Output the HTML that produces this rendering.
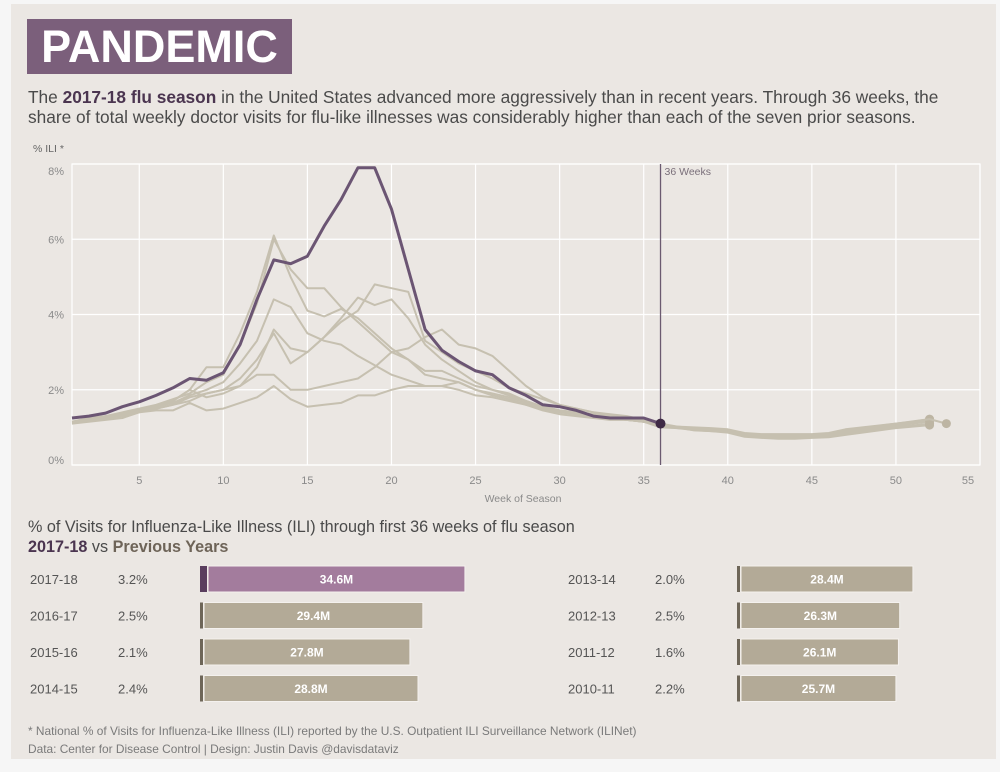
<!DOCTYPE html>
<html><head><meta charset="utf-8">
<style>
body{margin:0;width:1000px;height:772px;background:#f6f6f6;font-family:"Liberation Sans",sans-serif;overflow:hidden;position:relative}
#panel{position:absolute;left:11px;top:4px;width:985px;height:755px;background:#ebe7e3}
.t{position:absolute;white-space:nowrap}
</style></head><body>
<div id="panel"></div>
<div class="t" style="left:27px;top:19px;width:265px;height:55px;background:#7b5f7b;color:#fff;font-weight:bold;font-size:45px;line-height:55px;text-align:center">PANDEMIC</div>
<div class="t" style="left:28px;top:88px;font-size:17.3px;line-height:19.5px;color:#4a4a4a">The <b style="color:#4b3550">2017-18 flu season</b> in the United States advanced more aggressively than in recent years. Through 36 weeks, the<br>share of total weekly doctor visits for flu-like illnesses was considerably higher than each of the seven prior seasons.</div>
<svg id="chart" width="1000" height="520" style="position:absolute;left:0;top:0"></svg>
<div class="t" style="left:28px;top:517px;font-size:16.2px;line-height:20px;color:#4a4a4a">% of Visits for Influenza-Like Illness (ILI) through first 36 weeks of flu season<br><b style="color:#4b3550">2017-18</b> vs <b style="color:#6e6458">Previous Years</b></div>
<svg id="bars" width="1000" height="180" style="position:absolute;left:0;top:560px"></svg>
<div class="t" style="left:28px;top:722px;font-size:11.9px;line-height:18px;color:#7a7a7a">* National % of Visits for Influenza-Like Illness (ILI) reported by the U.S. Outpatient ILI Surveillance Network (ILINet)<br>Data: Center for Disease Control | Design: Justin Davis @davisdataviz</div>
<script>
const NS="http://www.w3.org/2000/svg";
const xTicks=[5,10,15,20,25,30,35,40,45,50,55];
const yTicks=[0,2,4,6,8];
const current=[1.25,1.3,1.38,1.55,1.68,1.85,2.05,2.3,2.25,2.45,3.2,4.4,5.45,5.35,5.55,6.35,7.05,7.9,7.9,6.8,5.2,3.6,3.05,2.75,2.5,2.4,2.05,1.85,1.6,1.55,1.45,1.3,1.25,1.25,1.25,1.1];
const sA=[1.15,1.2,1.3,1.35,1.45,1.55,1.7,2.0,2.6,2.6,3.5,4.6,6.1,5.0,4.1,3.95,4.15,3.9,3.5,3.1,2.8,2.5,2.5,2.3,2.1,2.0,1.9,1.7,1.55,1.45,1.35,1.3,1.25,1.2,1.15,1.05,1.0,0.97,0.95,0.92,0.82,0.8,0.8,0.8,0.8,0.82,0.9,0.97,1.02,1.08,1.14,1.2];
const sB=[1.15,1.25,1.3,1.4,1.5,1.6,1.75,1.9,2.2,2.4,3.2,4.3,6.0,5.2,4.7,4.7,4.2,3.8,3.4,3.0,2.8,2.4,2.3,2.2,2.0,1.9,1.8,1.65,1.5,1.4,1.35,1.3,1.25,1.2,1.15,1.0,0.98,0.95,0.93,0.9,0.8,0.78,0.78,0.77,0.77,0.8,0.87,0.95,1.0,1.06,1.12,1.18];
const sC=[1.15,1.2,1.25,1.35,1.45,1.55,1.65,1.85,2.0,2.2,2.7,3.3,4.4,4.2,3.5,3.3,3.2,2.9,2.65,2.4,2.25,2.1,2.1,2.2,2.0,1.85,1.75,1.6,1.5,1.4,1.35,1.3,1.25,1.2,1.15,1.05,1.0,0.92,0.9,0.88,0.76,0.74,0.74,0.72,0.74,0.76,0.82,0.9,0.96,1.0,1.05,1.1];
const sD=[1.15,1.2,1.25,1.3,1.45,1.5,1.6,1.8,1.9,2.0,2.3,2.8,3.5,2.7,3.0,3.4,3.8,4.1,4.8,4.7,4.6,3.3,3.0,2.7,2.5,2.3,2.05,1.9,1.75,1.6,1.5,1.4,1.3,1.25,1.2,1.05,1.02,1.0,0.98,0.95,0.85,0.82,0.82,0.82,0.82,0.85,0.95,1.0,1.05,1.1,1.15,1.22];
const sE=[1.15,1.2,1.25,1.35,1.45,1.55,1.7,2.0,1.8,1.9,2.1,2.6,3.6,3.1,3.0,3.4,3.9,4.45,4.25,4.4,3.9,3.2,2.8,2.5,2.2,2.0,1.85,1.7,1.55,1.45,1.4,1.35,1.3,1.25,1.15,1.05,1.0,0.96,0.94,0.9,0.8,0.78,0.78,0.76,0.76,0.78,0.86,0.92,0.98,1.04,1.1,1.16];
const sF=[1.1,1.2,1.25,1.3,1.4,1.5,1.6,1.7,1.9,2.0,2.1,2.4,2.4,2.0,2.0,2.1,2.2,2.3,2.6,3.0,3.1,3.4,3.6,3.2,3.1,2.9,2.5,2.1,1.8,1.6,1.5,1.4,1.35,1.3,1.2,1.1,1.02,0.98,0.96,0.92,0.84,0.8,0.8,0.8,0.8,0.82,0.9,0.98,1.04,1.1,1.16,1.22,1.1];
const sG=[1.1,1.15,1.2,1.25,1.4,1.45,1.45,1.65,1.45,1.5,1.65,1.8,2.1,1.75,1.55,1.6,1.65,1.85,1.85,2.0,2.1,2.1,2.1,2.0,1.85,1.8,1.7,1.6,1.45,1.35,1.3,1.25,1.2,1.2,1.15,1.05,0.98,0.93,0.9,0.86,0.75,0.72,0.7,0.7,0.72,0.74,0.8,0.86,0.92,0.98,1.02,1.06];
const previous=[sA,sB,sC,sD,sE,sF,sG];
const markerWeek=36;

const X=w=>72+(w-1)*(908/54);
const Y=v=>465-v*(301/8);
const svg=document.getElementById('chart');
function mk(tag,attrs,parent){const e=document.createElementNS(NS,tag);for(const k in attrs)e.setAttribute(k,attrs[k]);(parent||svg).appendChild(e);return e;}
const frame=mk('rect',{x:72,y:164,width:908,height:301,fill:'none',stroke:'#fff','stroke-width':1.2});


yTicks.forEach(v=>{
  const g=mk('line',{x1:72,x2:980,y1:Y(v),y2:Y(v),stroke:'#fff','stroke-width':1.2});
  
  
  const t=mk('text',{x:64,y:Y(v)+(v===8?11:(v===0?-1:4)),'text-anchor':'end','font-size':11,fill:'#8a8a8a'});
  t.textContent=v+'%';
  
  
});
xTicks.forEach(w=>{
  const g=mk('line',{x1:X(w),x2:X(w),y1:164,y2:465,stroke:'#fff','stroke-width':1.2});
  
  
  const t=mk('text',{x:Math.min(X(w),968),y:484,'text-anchor':'middle','font-size':11,fill:'#8a8a8a'});
  t.textContent=w;
  
  
});
const yl=mk('text',{x:33,y:152,'font-size':10.5,fill:'#666'});yl.textContent='% ILI *';


const xl=mk('text',{x:523,y:502,'text-anchor':'middle','font-size':10.5,fill:'#8a8a8a'});xl.textContent='Week of Season';


function path(arr){return arr.map((v,i)=>(i?'L':'M')+X(i+1).toFixed(1)+','+Y(v).toFixed(1)).join('');}
previous.forEach((s,i)=>{
  const p=mk('path',{d:path(s),fill:'none',stroke:'#c6c0b0','stroke-width':2,'stroke-linejoin':'round'});
  
  
  const d=mk('circle',{cx:X(s.length),cy:Y(s[s.length-1]),r:4.5,fill:'#bdb5a3'});
  
  
});
const vl=mk('line',{x1:X(markerWeek),x2:X(markerWeek),y1:164,y2:465,stroke:'#6b5a70','stroke-width':1.3});


const vt=mk('text',{x:X(markerWeek)+4,y:175,'font-size':10.5,fill:'#7a6f7a'});vt.textContent='36 Weeks';


const cp=mk('path',{d:path(current),fill:'none',stroke:'#6b5573','stroke-width':3,'stroke-linejoin':'round'});


const cd=mk('circle',{cx:X(current.length),cy:Y(current[current.length-1]),r:5,fill:'#3f2a45'});



const seasons=['2017-18','2016-17','2015-16','2014-15','2013-14','2012-13','2011-12','2010-11'];
const pcts=['3.2%','2.5%','2.1%','2.4%','2.0%','2.5%','1.6%','2.2%'];
const visits=[34.6,29.4,27.8,28.8,28.4,26.3,26.1,25.7];
const bs=document.getElementById('bars');
function bk(tag,attrs){const e=document.createElementNS(NS,tag);for(const k in attrs)e.setAttribute(k,attrs[k]);bs.appendChild(e);return e;}
seasons.forEach((s,i)=>{
  const col=i<4?0:1,row=i%4;
  const cy=19+row*36.5;
  const lx=col?568:30,px=col?655:118,bx=col?737:200;
  const end=col?734+6.3*visits[i]:185+8.09*visits[i];
  const t1=bk('text',{x:lx,y:cy+5,'font-size':13,fill:'#555'});t1.textContent=s;
  
  
  const t2=bk('text',{x:px,y:cy+5,'font-size':13,fill:'#555'});t2.textContent=pcts[i];
  
  
  const first=i===0;
  const mark=bk('rect',{x:bx,y:cy-13,width:first?7:3,height:26,fill:first?'#5a3e5e':'#6e6658'});
  
  
  const start=bx+(first?8:4);
  const r=bk('rect',{x:start,y:cy-13,width:end-start,height:26,fill:first?'#a37c9d':'#b3aa97',stroke:'#f4f1ee','stroke-width':1});
  
  
  const tv=bk('text',{x:(start+end)/2,y:cy+4.5,'text-anchor':'middle','font-size':12,'font-weight':'bold',fill:'#fff'});tv.textContent=visits[i]+'M';
  
  
});
</script>
</body></html>
